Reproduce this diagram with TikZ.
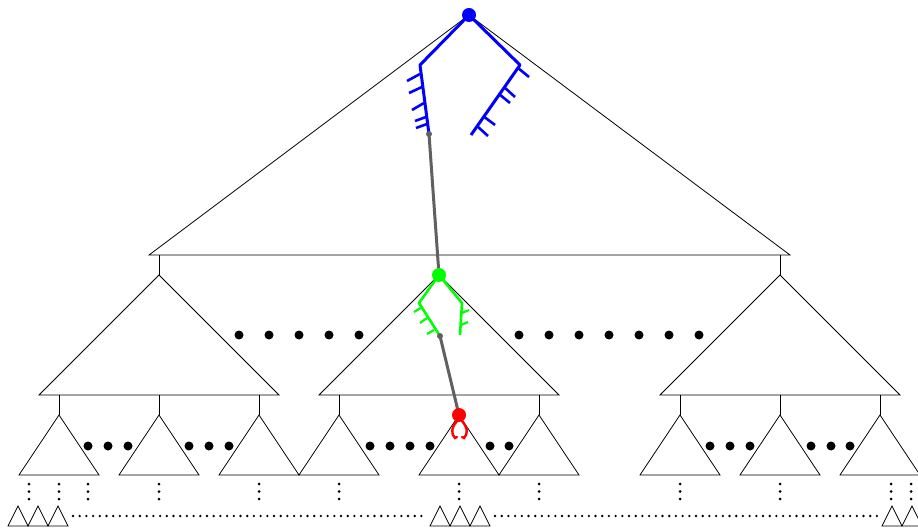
\documentclass[tikz,border=0pt]{standalone}
\definecolor{pblue}{RGB}{0,0,255}
\definecolor{pgreen}{RGB}{0,255,0}
\definecolor{pred}{RGB}{255,0,0}
\definecolor{pgray}{RGB}{96,96,96}
\begin{document}
\begin{tikzpicture}[x=1pt,y=-1pt,
  edge/.style={line width=0.8pt,black},
  tri/.style={line width=0.8pt,black,line join=miter},
  bigdot/.style={circle,fill=black,inner sep=0pt,minimum size=9pt},
  smalldot/.style={circle,fill=black,inner sep=0pt,minimum size=3pt},
  hdots/.style={line width=2.6pt,line cap=round,dash pattern=on 0pt off 6.7pt},
  path/.style={line width=3pt,pgray},
  btree/.style={line width=3pt,pblue},
  gtree/.style={line width=2.6pt,pgreen},
  rtree/.style={line width=2.4pt,pred},
  rootdot/.style={circle,inner sep=0pt,minimum size=14pt},
  joint/.style={circle,fill=pgray,inner sep=0pt,minimum size=6pt}]
\useasboundingbox (0,0) rectangle (918,529);
% top triangle
\coordinate (top) at (469,15);
\draw[tri] (top) -- (149,255) -- (790,255) -- cycle;
% mid triangles
\foreach \c/\n in {159/ml,439/mm,780/mr}{
  \coordinate (\n) at (\c,275);
  \draw[tri] (\n) -- (\c-120,395) -- (\c+120,395) -- cycle;
}
\draw[edge] (159,255) -- (ml);
\draw[edge] (780,255) -- (mr);
% bottom triangles
\foreach \c in {59,159,259,339,459,539,680,780,880}{
  \coordinate (b\c) at (\c,415);
  \draw[tri] (b\c) -- (\c-40,475) -- (\c+40,475) -- cycle;
}
\foreach \c in {59,159,259,339,539,680,780,880}{
  \draw[edge] (\c,395) -- (b\c);
}
% big dots mid level
\foreach \x in {239,269,299,329,359,519,549,579,609,639,669,699}{
  \node[bigdot] (md\x) at (\x,335) {};
}
% big dots bottom level
\foreach \x in {88,108,128,189,209,229,370,390,410,430,490,509,710,730,750,811,831,850}{
  \node[bigdot] (bd\x) at (\x,446) {};
}
% vertical dot columns
\foreach \x in {29,59,88,159,259,339,459,539,680,780,891,911}{
  \foreach \y in {484,491.5,499}{
    \node[smalldot] at (\x,\y) {};
  }
}
% tiny triangles
\foreach \c in {18,38,58,440,460,480,892,912}{
  \coordinate (t\c) at (\c,506);
  \draw[tri] (t\c) -- (\c-10,526) -- (\c+10,526) -- cycle;
}
\coordinate (h1a) at (73,516);
\coordinate (h1b) at (428,516);
\coordinate (h2a) at (495,516);
\coordinate (h2b) at (878,516);
\draw[hdots] (h1a) -- (h1b);
\draw[hdots] (h2a) -- (h2b);
% gray path
\coordinate (g1) at (429,134);
\coordinate (g2) at (440,336);
\coordinate (rr) at (459,415);
\draw[path] (g1) -- (mm);
\draw[path] (g2) -- (rr);
% blue tree
\draw[btree,line join=round] (top) -- (420,65) -- (g1);
\draw[btree,line join=round] (top) -- (520,65) -- (471,135);
\foreach \a/\b in {{(420,74)}/{(407,81)},{(422,87)}/{(409,93)},{(424,103)}/{(412,110)},{(426,117)}/{(415,121)},{(427,124)}/{(416,128)},
  {(518,68)}/{(529,77)},{(504,87)}/{(515,97)},{(499,94)}/{(510,103)},{(483,116)}/{(495,125)},{(477,126)}/{(488,136)}}{
  \draw[line width=2.6pt,pblue] \a -- \b;
}
% green tree
\draw[gtree,line join=round] (mm) -- (419,303) -- (g2);
\draw[gtree,line join=round] (mm) -- (462,303) -- (460,335);
\foreach \a/\b in {{(422,307)}/{(414,312)},{(427,318)}/{(420,323)},{(434,330)}/{(427,334)},
  {(462,313)}/{(469,310)},{(461,325)}/{(468,322)}}{
  \draw[line width=2.2pt,pgreen] \a -- \b;
}
% red
\draw[rtree,line cap=round] (457,421) .. controls (451,428) and (451,434) .. (455,438) -- (457,437);
\draw[rtree,line cap=round] (462,421) .. controls (468,428) and (468,434) .. (464,438) -- (462,437);
% joints and roots
\node[joint] (j1) at (g1) {};
\node[joint] (j2) at (g2) {};
\node[rootdot,fill=pblue] (rootb) at (top) {};
\node[rootdot,fill=pgreen] (rootg) at (mm) {};
\node[rootdot,fill=pred] (rootr) at (rr) {};
\end{tikzpicture}
\end{document}
